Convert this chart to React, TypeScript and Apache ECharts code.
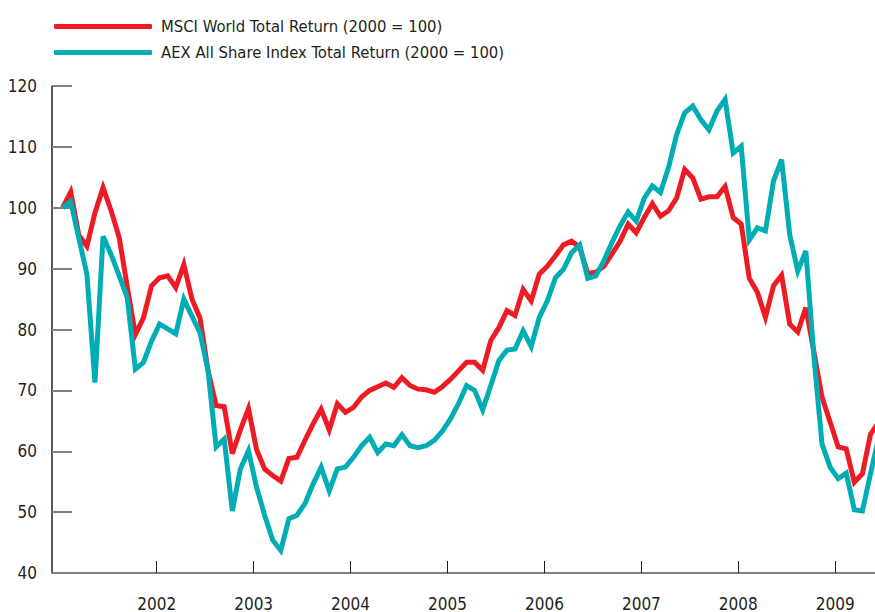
import React, { useEffect, useRef } from "react";
import * as echarts from "echarts";

// Monthly observations, first point at early January 2001
const startYear = 2001.03;
const yearTicks = [2002, 2003, 2004, 2005, 2006, 2007, 2008, 2009];
const yTickMin = 40;
const yTickMax = 120;

const msciWorld = [
  100, 102.6, 95.5, 93.7, 99.2, 103.3, 99.5, 95.1, 87, 79.2,
  81.9, 87.2, 88.5, 88.8, 86.9, 90.7, 85.0, 81.9, 73.2, 67.5,
  67.3, 59.6, 63.5, 67.0, 60.3, 57.1, 56.0, 55.1, 58.8, 59.0,
  61.8, 64.5, 66.9, 63.5, 67.8, 66.4, 67.2, 68.9, 70.0, 70.6,
  71.2, 70.5, 72.1, 70.8, 70.2, 70.1, 69.7, 70.6, 71.8, 73.2,
  74.6, 74.6, 73.3, 78.2, 80.3, 83.1, 82.3, 86.6, 84.7, 89.1,
  90.4, 92.1, 93.9, 94.5, 93.5, 89.2, 89.4, 90.4, 92.4, 94.5,
  97.3, 95.9, 98.4, 100.7, 98.6, 99.5, 101.6, 106.3, 104.9, 101.4,
  101.8, 101.8, 103.5, 98.4, 97.3, 88.4, 86.1, 82.0, 87.2, 88.9,
  80.9, 79.6, 83.6, 76.3, 68.9, 64.8, 60.7, 60.4, 54.9, 56.3,
  62.8, 64.7,
];

const aexAllShare = [
  100, 101, 95, 89.1, 71.3, 95.3, 92.3, 88.8, 85.2, 73.5,
  74.6, 78.1, 80.9, 80.1, 79.3, 85.0, 82.2, 79.5, 73.2, 60.7,
  62.0, 50.2, 57.1, 60.1, 54.1, 49.5, 45.4, 43.7, 48.9, 49.5,
  51.4, 54.6, 57.4, 53.5, 57.1, 57.4, 59.0, 60.9, 62.3, 59.8,
  61.2, 60.9, 62.7, 60.9, 60.6, 60.9, 61.8, 63.3, 65.3, 67.8,
  70.8, 70.0, 66.8, 70.8, 74.9, 76.6, 76.8, 79.8, 77.2, 82.0,
  84.7, 88.5, 89.9, 92.6, 93.9, 88.4, 88.8, 91.3, 94.3, 97.0,
  99.3, 97.8, 101.6, 103.6, 102.5, 106.6, 112.0, 115.6, 116.7, 114.5,
  112.8, 115.9, 117.8, 109.0, 110.1, 94.7, 96.7, 96.2, 104.4, 107.9,
  95.6, 89.6, 92.9, 75.5, 61.2, 57.4, 55.5, 56.4, 50.4, 50.2,
  56.3, 62.2,
];

const seriesNames = [
  "MSCI World Total Return (2000 = 100)",
  "AEX All Share Index Total Return (2000 = 100)",
];

const FONT = "'DejaVu Sans Condensed', 'Liberation Sans Narrow', 'Open Sans', sans-serif";

function toPairs(values: number[]) {
  return values.map((v, i) => [startYear + i / 12, v]);
}

export default function App() {
  const ref = useRef<HTMLDivElement>(null);
  useEffect(() => {
    if (!ref.current) return;
    const chart = echarts.init(ref.current, undefined, { renderer: "svg" });
    chart.setOption({
      animation: false,
      backgroundColor: "#ffffff",
      textStyle: { fontFamily: FONT },
      legend: {
        orient: "vertical",
        left: 49,
        top: 13,
        itemWidth: 98,
        itemHeight: 5,
        itemGap: 9,
        icon: "roundRect",
        textStyle: {
          fontFamily: FONT,
          fontSize: 16.5,
          color: "#231f20",
          padding: [0, 0, 0, 4],
        },
        data: seriesNames,
      },
      grid: { left: 52, right: 0, top: 86, bottom: 39, containLabel: false },
      xAxis: {
        type: "value",
        min: 2000.92,
        max: 2009.41,
        splitLine: { show: false },
        axisLine: { show: true, lineStyle: { color: "#808080", width: 2 } },
        axisTick: {
          show: true,
          inside: true,
          length: 12,
          customValues: yearTicks,
          lineStyle: { color: "#231f20", width: 1 },
        },
        axisLabel: {
          customValues: yearTicks,
          formatter: (v: number) => String(Math.round(v)),
          fontFamily: FONT,
          fontSize: 17,
          color: "#231f20",
          margin: 22,
        },
      },
      yAxis: {
        type: "value",
        min: yTickMin,
        max: yTickMax,
        interval: 10,
        splitLine: { show: false },
        axisLine: { show: true, lineStyle: { color: "#231f20", width: 1.5 } },
        axisTick: {
          show: true,
          inside: true,
          length: 20,
          lineStyle: { color: "#808080", width: 2 },
        },
        axisLabel: {
          fontFamily: FONT,
          fontSize: 17,
          color: "#231f20",
          margin: 15,
        },
      },
      series: [
        {
          name: seriesNames[0],
          type: "line",
          data: toPairs(msciWorld),
          symbol: "none",
          clip: true,
          color: "#ed1c24",
          lineStyle: { color: "#ed1c24", width: 5, join: "miter" },
        },
        {
          name: seriesNames[1],
          type: "line",
          data: toPairs(aexAllShare),
          symbol: "none",
          clip: true,
          color: "#00adb5",
          lineStyle: { color: "#00adb5", width: 5, join: "miter" },
        },
      ],
    });
    return () => chart.dispose();
  }, []);
  return (
    <div
      ref={ref}
      style={{ position: "absolute", left: 0, top: 0, width: 875, height: 612 }}
    />
  );
}
